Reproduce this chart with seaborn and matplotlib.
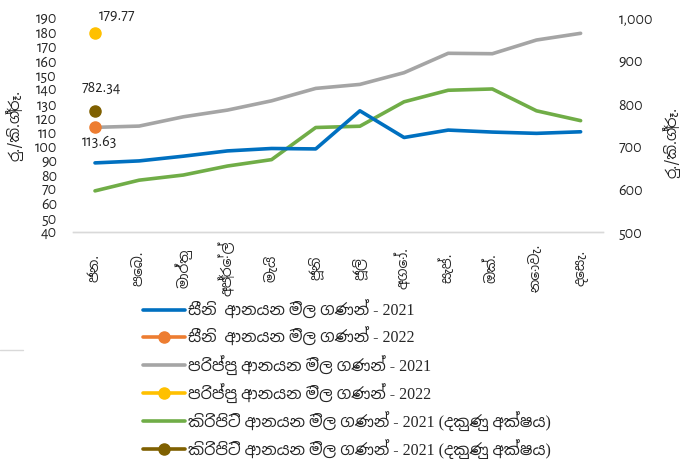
import matplotlib
matplotlib.use("Agg")
import matplotlib.pyplot as plt
from matplotlib.lines import Line2D
from matplotlib.ticker import FuncFormatter, MultipleLocator
import numpy as np
import pandas as pd
import seaborn as sns

# month labels (Jan..Dec)
months = ["ජන.", "පෙබ.", "මාර්තු", "අප්‍රේල්", "මැයි", "ජූනි",
          "ජූලි", "අගෝ.", "සැප්.", "ඔක්.", "නොවැ.", "දෙසැ."]

# left axis, Rs/kg
sugar_2021 = [88.4, 89.8, 93.1, 96.8, 98.5, 98.2, 124.9, 106.2, 111.4, 110.0, 109.1, 110.2]
dhal_2021 = [113.3, 114.2, 120.7, 125.4, 131.9, 140.6, 143.4, 151.6, 165.2, 164.9, 174.5, 179.2]
sugar_2022 = [113.63]
dhal_2022 = [179.77]

# right axis, Rs/kg
milk_2021 = [596, 621, 633, 654, 669, 744, 747, 804, 831, 834, 783, 760]
milk_2022 = [782.34]

labels = ["සීනි  ආනයන මිල ගණන් - 2021",
          "සීනි  ආනයන මිල ගණන් - 2022",
          "පරිප්පු ආනයන මිල ගණන් - 2021",
          "පරිප්පු ආනයන මිල ගණන් - 2022",
          "කිරිපිටි ආනයන මිල ගණන් - 2021 (දකුණු අක්ෂය)",
          "කිරිපිටි ආනයන මිල ගණන් - 2021 (දකුණු අක්ෂය)"]
ylabel = "රු./කි.ග්‍රෑ."

sns.set_theme(style="white")
num_font = ["Alegreya Sans", "Carlito", "DejaVu Sans"]
sin_font = ["Noto Sans Sinhala", "DejaVu Sans"]
leg_font = ["Liberation Serif", "Noto Sans Sinhala", "DejaVu Sans"]
plt.rcParams["font.family"] = num_font

c_blue, c_orange, c_gray = "#0070C0", "#ED7D31", "#A5A5A5"
c_yellow, c_green, c_brown = "#FFC000", "#70AD47", "#7F6000"

fig = plt.figure(figsize=(6.88, 4.59), dpi=100)
ax = fig.add_axes([0.106, 0.4946, 0.770, 0.4664])
ax2 = ax.twinx()

x = np.arange(len(months))
df = pd.DataFrame({"m": x, "sugar": sugar_2021, "dhal": dhal_2021, "milk": milk_2021})

lw = 2.6
sns.lineplot(data=df, x="m", y="sugar", ax=ax, color=c_blue, lw=lw)
sns.lineplot(data=df, x="m", y="dhal", ax=ax, color=c_gray, lw=lw)
sns.lineplot(data=df, x="m", y="milk", ax=ax2, color=c_green, lw=lw)

ms = 8
ax2.plot(x[:1], milk_2022, "o", color=c_brown, ms=ms, zorder=5)
ax.plot(x[:1], sugar_2022, "o", color=c_orange, ms=ms, zorder=5)
ax.plot(x[:1], dhal_2022, "o", color=c_yellow, ms=ms, zorder=5)

# keep left-axis points above the twin axis
ax.set_zorder(ax2.get_zorder() + 1)
ax.patch.set_visible(False)

ax.annotate(f"{dhal_2022[0]:.2f}", (0, dhal_2022[0]), xytext=(16, 12), textcoords="offset points",
            ha="center", va="center", fontsize=11.5, color="#222222")
ax.annotate(f"{sugar_2022[0]:.2f}", (0, sugar_2022[0]), xytext=(3, -10.6), textcoords="offset points",
            ha="center", va="center", fontsize=11.5, color="#222222")
ax2.annotate(f"{milk_2022[0]:.2f}", (0, milk_2022[0]), xytext=(4.3, 16.6), textcoords="offset points",
             ha="center", va="center", fontsize=11.5, color="#222222")

ax.set_xlim(-0.5, 11.5)
ax.set_ylim(40, 190)
ax.yaxis.set_major_locator(MultipleLocator(10))
ax2.set_ylim(500, 1000)
ax2.yaxis.set_major_locator(MultipleLocator(100))
ax2.yaxis.set_major_formatter(FuncFormatter(lambda v, p: f"{v:,.0f}"))

ax.set_xticks(x)
ax.set_xticklabels(months, rotation=90, fontsize=10, family=sin_font)
for t in ax.get_xticklabels():
    t.set_va("center")
ax.tick_params(axis="x", length=0, pad=26)
ax.tick_params(axis="y", length=0, pad=11.5, labelsize=11.5, colors="#222222")
ax2.tick_params(axis="y", length=0, pad=11.5, labelsize=11.5, colors="#222222")

ax.set_xlabel("")
ax.set_ylabel(ylabel, family=sin_font, fontsize=10.5, color="#222222")
ax.yaxis.set_label_coords(-0.094, 0.5)
ax2.set_ylabel(ylabel, family=sin_font, fontsize=10.5, color="#222222")
ax2.yaxis.set_label_coords(1.113, 0.42)

for a in (ax, ax2):
    for s in ("top", "left", "right"):
        a.spines[s].set_visible(False)
    a.spines["bottom"].set_color("#D9D9D9")
    a.spines["bottom"].set_linewidth(1)
    a.grid(False)

handles = [
    Line2D([], [], color=c_blue, lw=lw),
    Line2D([], [], color=c_orange, lw=lw, marker="o", ms=ms),
    Line2D([], [], color=c_gray, lw=lw),
    Line2D([], [], color=c_yellow, lw=lw, marker="o", ms=ms),
    Line2D([], [], color=c_green, lw=lw),
    Line2D([], [], color=c_brown, lw=lw, marker="o", ms=ms),
]
fig.legend(handles, labels, loc="upper left", bbox_to_anchor=(0.208, 0.345), frameon=False,
           prop={"family": leg_font, "size": 11.5}, handlelength=2.6, handletextpad=0.2,
           labelspacing=0.5, borderaxespad=0, borderpad=0)

fig.add_artist(Line2D([0, 23 / 688], [1 - 350 / 459] * 2, color="#D9D9D9", lw=1))

fig.savefig("out.png", dpi=100)
